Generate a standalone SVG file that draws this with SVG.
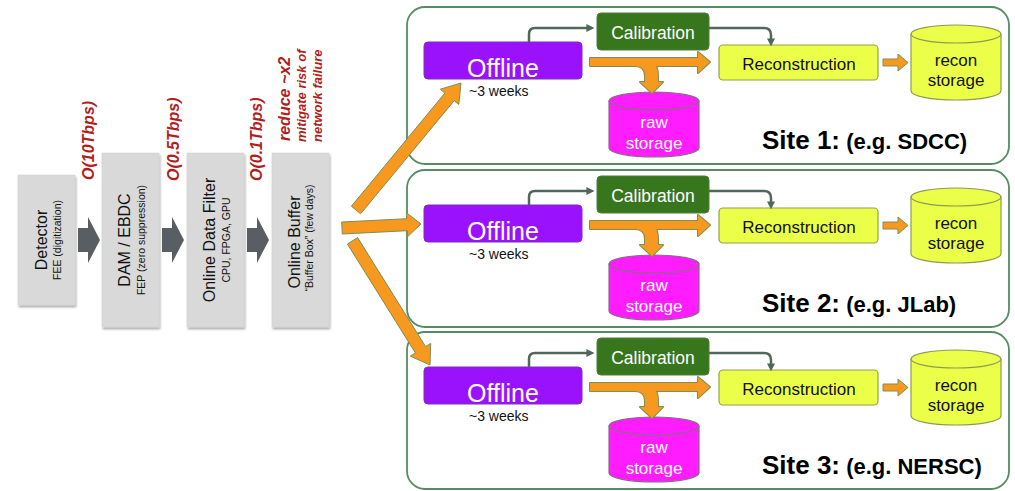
<svg xmlns="http://www.w3.org/2000/svg" xmlns:xlink="http://www.w3.org/1999/xlink" width="1015" height="491" viewBox="0 0 1015 491">
<style>
text{font-family:"Liberation Sans",Arial,sans-serif;}
.gbox{fill:#d9d9d9;stroke:#cfcfcf;stroke-width:0.5;filter:url(#sh);}
.garrow{fill:#595e64;}
.main{font-size:16px;fill:#111;}
.sub{font-size:10.5px;fill:#111;}
.rate{font-size:16px;font-weight:bold;font-style:italic;fill:#b01e1e;}
.note{font-size:13px;font-weight:bold;font-style:italic;fill:#b01e1e;}
.frame{fill:#fff;stroke:#558c63;stroke-width:1.8;}
.offline{fill:#9a12fb;stroke:#7a30b8;stroke-width:1;}
.offt{font-size:25px;fill:#fff;}
.weeks{font-size:14px;fill:#111;}
.calib{fill:#38761d;stroke:#4c7f3a;stroke-width:1;}
.calt{font-size:17.5px;fill:#fff;}
.recon{fill:#ecff48;stroke:#8fa24e;stroke-width:1.2;}
.rect{font-size:17px;fill:#111;}
.raw{fill:#ff1cff;stroke:#8a6a86;stroke-width:1.2;}
.rawt{font-size:17px;fill:#fff;}
.rst{fill:#ecff48;stroke:#8d9a55;stroke-width:1.2;}
.rstt{font-size:17px;fill:#111;}
.site{font-weight:bold;fill:#000;}
.conn{fill:none;stroke:#50675a;stroke-width:2.5;marker-end:url(#ah);}
.oout{fill:#f6991e;stroke:#7c8f56;stroke-width:2;stroke-linejoin:round;}
.ofill{fill:#f6991e;stroke:none;}
.big{fill:#f6991e;stroke:#7c8f56;stroke-width:1;stroke-linejoin:round;}
</style>
<defs>
<filter id="sh" x="-20%" y="-10%" width="150%" height="130%">
<feDropShadow dx="1" dy="2" stdDeviation="1.3" flood-color="#000" flood-opacity="0.35"/>
</filter>
<marker id="ah" viewBox="0 0 10 10" refX="2" refY="5" markerWidth="3.2" markerHeight="3.2" orient="auto">
<path d="M0,0 L10,5 L0,10 z" fill="#50675a"/>
</marker>
</defs>

<!-- left pipeline nodes -->
<g id="detector">
<rect class="gbox" x="18" y="175" width="57" height="130"/>
<text class="main" font-size="15.5" text-anchor="middle" transform="translate(47,240) rotate(-90)">Detector</text>
<text class="sub" text-anchor="middle" transform="translate(61,240) rotate(-90)">FEE (digitization)</text>
</g>
<g id="dam-ebdc">
<rect class="gbox" x="102" y="153" width="57" height="174"/>
<text class="main" text-anchor="middle" transform="translate(130,240) rotate(-90)">DAM / EBDC</text>
<text class="sub" font-size="10" text-anchor="middle" transform="translate(145,240) rotate(-90)">FEP (zero suppression)</text>
</g>
<g id="online-data-filter">
<rect class="gbox" x="187" y="153" width="57" height="174"/>
<text class="main" text-anchor="middle" transform="translate(215,240) rotate(-90)">Online Data Filter</text>
<text class="sub" font-size="11" text-anchor="middle" transform="translate(230,240) rotate(-90)">CPU, FPGA, GPU</text>
</g>
<g id="online-buffer">
<rect class="gbox" x="272" y="153" width="57" height="174"/>
<text class="main" font-size="16.5" text-anchor="middle" transform="translate(300,242) rotate(-90)">Online Buffer</text>
<text class="sub" text-anchor="middle" transform="translate(313,238) rotate(-90)">“Buffer Box” (few days)</text>
</g>

<!-- rate labels -->
<g id="rate-labels">
<text class="rate" transform="translate(94,180) rotate(-90)">O(10Tbps)</text>
<text class="rate" transform="translate(179,181) rotate(-90)">O(0.5Tbps)</text>
<text class="rate" transform="translate(262,181) rotate(-90)">O(0.1Tbps)</text>
<text class="rate" font-size="17.5" transform="translate(290,141) rotate(-90)">reduce ~x2</text>
<text class="note" transform="translate(306,142) rotate(-90)">mitigate risk of</text>
<text class="note" transform="translate(322,142) rotate(-90)">network failure</text>
</g>

<!-- sites -->
<g id="site1">
<rect class="frame" x="407" y="7" width="602" height="157" rx="18"/>
<g id="s1-offline"><rect class="offline" x="424" y="42" width="158" height="37" rx="4"/><text class="offt" x="503" y="77" text-anchor="middle">Offline</text><text class="weeks" x="469" y="96">~3 weeks</text></g>
<g id="s1-calibration"><rect class="calib" x="597" y="13" width="112" height="37" rx="4"/><text class="calt" x="653" y="38.5" text-anchor="middle">Calibration</text></g>
<g id="s1-reconstruction"><rect class="recon" x="719" y="45" width="159" height="35" rx="4"/><text class="rect" x="799" y="70" text-anchor="middle">Reconstruction</text></g>
<g id="s1-raw-storage"><path class="raw" d="M609,101 V148 A45,9 0 0 0 699,148 V101 Z"/><ellipse class="raw" cx="654" cy="101" rx="45" ry="9"/><text class="rawt" x="654" y="128" text-anchor="middle">raw</text><text class="rawt" x="654" y="149" text-anchor="middle">storage</text></g>
<g id="s1-recon-storage"><path class="rst" d="M911,34 V91 A45,9 0 0 0 1001,91 V34 Z"/><ellipse class="rst" cx="956" cy="34" rx="45" ry="9"/><text class="rstt" x="956" y="66" text-anchor="middle">recon</text><text class="rstt" x="956" y="86" text-anchor="middle">storage</text></g>
<g id="s1-label"><text class="site" x="762" y="149"><tspan font-size="26">Site 1:</tspan><tspan font-size="22"> (e.g. SDCC)</tspan></text></g>
<g id="s1-connectors">
<path class="conn" d="M529,42 V34 Q529,28 535,28 H588"/>
<path class="conn" d="M709,28 H764 Q771,28 771,35 V40"/>
<g class="oout"><polygon points="590,58 698,58 698,52 710,62 698,73 698,66 590,66"/><path d="M620,58 H640 Q658,58 658,76 V82 H663 L652,93 L640,82 H645 V76 Q645,66 635,66 H620 Z"/></g>
<g class="ofill"><polygon points="590,58 698,58 698,52 710,62 698,73 698,66 590,66"/><path d="M620,58 H640 Q658,58 658,76 V82 H663 L652,93 L640,82 H645 V76 Q645,66 635,66 H620 Z"/></g>
<polygon class="big" points="883,59 898,59 898,54 908,62.5 898,71 898,66 883,66"/>
</g>
</g>

<g id="site2" transform="translate(0,163)">
<rect class="frame" x="407" y="7" width="602" height="157" rx="18"/>
<g id="s2-offline"><rect class="offline" x="424" y="42" width="158" height="37" rx="4"/><text class="offt" x="503" y="77" text-anchor="middle">Offline</text><text class="weeks" x="469" y="96">~3 weeks</text></g>
<g id="s2-calibration"><rect class="calib" x="597" y="13" width="112" height="37" rx="4"/><text class="calt" x="653" y="38.5" text-anchor="middle">Calibration</text></g>
<g id="s2-reconstruction"><rect class="recon" x="719" y="45" width="159" height="35" rx="4"/><text class="rect" x="799" y="70" text-anchor="middle">Reconstruction</text></g>
<g id="s2-raw-storage"><path class="raw" d="M609,101 V148 A45,9 0 0 0 699,148 V101 Z"/><ellipse class="raw" cx="654" cy="101" rx="45" ry="9"/><text class="rawt" x="654" y="128" text-anchor="middle">raw</text><text class="rawt" x="654" y="149" text-anchor="middle">storage</text></g>
<g id="s2-recon-storage"><path class="rst" d="M911,34 V91 A45,9 0 0 0 1001,91 V34 Z"/><ellipse class="rst" cx="956" cy="34" rx="45" ry="9"/><text class="rstt" x="956" y="66" text-anchor="middle">recon</text><text class="rstt" x="956" y="86" text-anchor="middle">storage</text></g>
<g id="s2-label"><text class="site" x="762" y="149"><tspan font-size="26">Site 2:</tspan><tspan font-size="22"> (e.g. JLab)</tspan></text></g>
<g id="s2-connectors">
<path class="conn" d="M529,42 V34 Q529,28 535,28 H588"/>
<path class="conn" d="M709,28 H764 Q771,28 771,35 V40"/>
<g class="oout"><polygon points="590,58 698,58 698,52 710,62 698,73 698,66 590,66"/><path d="M620,58 H640 Q658,58 658,76 V82 H663 L652,93 L640,82 H645 V76 Q645,66 635,66 H620 Z"/></g>
<g class="ofill"><polygon points="590,58 698,58 698,52 710,62 698,73 698,66 590,66"/><path d="M620,58 H640 Q658,58 658,76 V82 H663 L652,93 L640,82 H645 V76 Q645,66 635,66 H620 Z"/></g>
<polygon class="big" points="883,59 898,59 898,54 908,62.5 898,71 898,66 883,66"/>
</g>
</g>

<g id="site3" transform="translate(0,325)">
<rect class="frame" x="407" y="7" width="602" height="157" rx="18"/>
<g id="s3-offline"><rect class="offline" x="424" y="42" width="158" height="37" rx="4"/><text class="offt" x="503" y="77" text-anchor="middle">Offline</text><text class="weeks" x="469" y="96">~3 weeks</text></g>
<g id="s3-calibration"><rect class="calib" x="597" y="13" width="112" height="37" rx="4"/><text class="calt" x="653" y="38.5" text-anchor="middle">Calibration</text></g>
<g id="s3-reconstruction"><rect class="recon" x="719" y="45" width="159" height="35" rx="4"/><text class="rect" x="799" y="70" text-anchor="middle">Reconstruction</text></g>
<g id="s3-raw-storage"><path class="raw" d="M609,101 V148 A45,9 0 0 0 699,148 V101 Z"/><ellipse class="raw" cx="654" cy="101" rx="45" ry="9"/><text class="rawt" x="654" y="128" text-anchor="middle">raw</text><text class="rawt" x="654" y="149" text-anchor="middle">storage</text></g>
<g id="s3-recon-storage"><path class="rst" d="M911,34 V91 A45,9 0 0 0 1001,91 V34 Z"/><ellipse class="rst" cx="956" cy="34" rx="45" ry="9"/><text class="rstt" x="956" y="66" text-anchor="middle">recon</text><text class="rstt" x="956" y="86" text-anchor="middle">storage</text></g>
<g id="s3-label"><text class="site" x="762" y="149"><tspan font-size="26">Site 3:</tspan><tspan font-size="22"> (e.g. NERSC)</tspan></text></g>
<g id="s3-connectors">
<path class="conn" d="M529,42 V34 Q529,28 535,28 H588"/>
<path class="conn" d="M709,28 H764 Q771,28 771,35 V40"/>
<g class="oout"><polygon points="590,58 698,58 698,52 710,62 698,73 698,66 590,66"/><path d="M620,58 H640 Q658,58 658,76 V82 H663 L652,93 L640,82 H645 V76 Q645,66 635,66 H620 Z"/></g>
<g class="ofill"><polygon points="590,58 698,58 698,52 710,62 698,73 698,66 590,66"/><path d="M620,58 H640 Q658,58 658,76 V82 H663 L652,93 L640,82 H645 V76 Q645,66 635,66 H620 Z"/></g>
<polygon class="big" points="883,59 898,59 898,54 908,62.5 898,71 898,66 883,66"/>
</g>
</g>

<!-- main connectors -->
<g id="connectors">
<polygon class="garrow" points="78,228 88,228 88,217 100,240 88,263 88,252 78,252"/>
<polygon class="garrow" points="162,228 172,228 172,217 184,240 172,263 172,252 162,252"/>
<polygon class="garrow" points="247,228 257,228 257,217 269,240 257,263 257,252 247,252"/>
<polygon class="big" points="351.4,206.2 444.9,93.1 440.3,89.2 461,83 458.8,104.5 454.2,100.7 360.6,213.8"/>
<polygon class="big" points="341.7,222 406.7,218.7 406.4,212.7 421,224 407.6,236.7 407.3,230.7 342.3,234"/>
<polygon class="big" points="357.6,237.6 425.6,346.6 430.7,343.4 430,365 410.3,356.1 415.4,352.9 347.4,244"/>
</g>
</svg>
